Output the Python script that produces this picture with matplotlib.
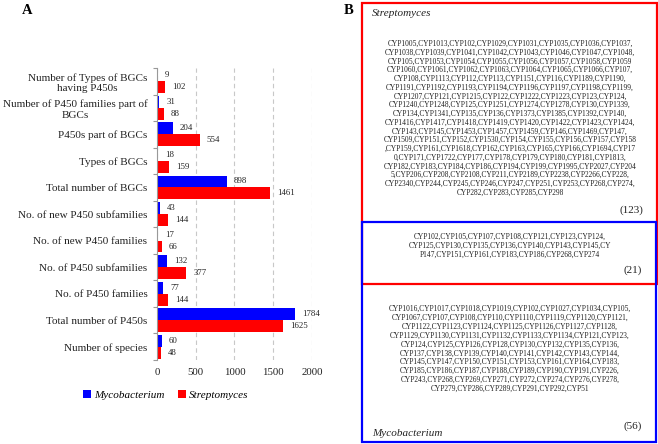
import matplotlib
matplotlib.use('Agg')
import numpy as np
import matplotlib.pyplot as plt
from matplotlib.patches import Rectangle

plt.rcParams['font.family'] = ['Liberation Serif', 'DejaVu Serif']

# panel A data (bottom to top)
categories = ['Number of species', 'Total number of P450s', 'No. of P450 families',
              'No. of P450 subfamilies', 'No. of new P450 families',
              'No. of new P450 subfamilies', 'Total number of BGCs', 'Types of BGCs',
              'P450s part of BGCs', 'Number of P450 families part of\nBGCs',
              'Number of Types of BGCs\nhaving P450s']
myco = [60, 1784, 77, 132, 17, 43, 898, 18, 204, 31, 9]
strep = [48, 1625, 144, 377, 66, 144, 1461, 159, 554, 88, 102]
xticks = [0, 500, 1000, 1500, 2000]

# panel B data (line breaks as in the figure)
strep_only = [
    'CYP1005,CYP1013,CYP102,CYP1029,CYP1031,CYP1035,CYP1036,CYP1037,',
    'CYP1038,CYP1039,CYP1041,CYP1042,CYP1043,CYP1046,CYP1047,CYP1048,',
    'CYP105,CYP1053,CYP1054,CYP1055,CYP1056,CYP1057,CYP1058,CYP1059',
    'CYP1060,CYP1061,CYP1062,CYP1063,CYP1064,CYP1065,CYP1066,CYP107,',
    'CYP108,CYP1113,CYP112,CYP113,CYP1151,CYP116,CYP1189,CYP1190,',
    'CYP1191,CYP1192,CYP1193,CYP1194,CYP1196,CYP1197,CYP1198,CYP1199,',
    'CYP1207,CYP121,CYP1215,CYP122,CYP1222,CYP1223,CYP123,CYP124,',
    'CYP1240,CYP1248,CYP125,CYP1251,CYP1274,CYP1278,CYP130,CYP1339,',
    'CYP134,CYP1341,CYP135,CYP136,CYP1373,CYP1385,CYP1392,CYP140,',
    'CYP1416,CYP1417,CYP1418,CYP1419,CYP1420,CYP1422,CYP1423,CYP1424,',
    'CYP143,CYP145,CYP1453,CYP1457,CYP1459,CYP146,CYP1469,CYP147,',
    'CYP1509,CYP151,CYP152,CYP1530,CYP154,CYP155,CYP156,CYP157,CYP158',
    ',CYP159,CYP161,CYP1618,CYP162,CYP163,CYP165,CYP166,CYP1694,CYP17',
    '0,CYP171,CYP1722,CYP177,CYP178,CYP179,CYP180,CYP181,CYP1813,',
    'CYP182,CYP183,CYP184,CYP186,CYP194,CYP199,CYP1995,CYP2027,CYP204',
    '5,CYP206,CYP208,CYP2108,CYP211,CYP2189,CYP2238,CYP2266,CYP228,',
    'CYP2340,CYP244,CYP245,CYP246,CYP247,CYP251,CYP253,CYP268,CYP274,',
    'CYP282,CYP283,CYP285,CYP298',
]
shared = [
    'CYP102,CYP105,CYP107,CYP108,CYP121,CYP123,CYP124,',
    'CYP125,CYP130,CYP135,CYP136,CYP140,CYP143,CYP145,CY',
    'P147,CYP151,CYP161,CYP183,CYP186,CYP268,CYP274',
]
myco_only = [
    'CYP1016,CYP1017,CYP1018,CYP1019,CYP102,CYP1027,CYP1034,CYP105,',
    'CYP1067,CYP107,CYP108,CYP110,CYP1110,CYP1119,CYP1120,CYP1121,',
    'CYP1122,CYP1123,CYP1124,CYP1125,CYP1126,CYP1127,CYP1128,',
    'CYP1129,CYP1130,CYP1131,CYP1132,CYP1133,CYP1134,CYP121,CYP123,',
    'CYP124,CYP125,CYP126,CYP128,CYP130,CYP132,CYP135,CYP136,',
    'CYP137,CYP138,CYP139,CYP140,CYP141,CYP142,CYP143,CYP144,',
    'CYP145,CYP147,CYP150,CYP151,CYP153,CYP161,CYP164,CYP183,',
    'CYP185,CYP186,CYP187,CYP188,CYP189,CYP190,CYP191,CYP226,',
    'CYP243,CYP268,CYP269,CYP271,CYP272,CYP274,CYP276,CYP278,',
    'CYP279,CYP286,CYP289,CYP291,CYP292,CYP51',
]
counts = {'strep': '(123)', 'shared': '(21)', 'myco': '(56)'}

BLUE = '#0000ff'
RED = '#ff0000'
W, H = 658, 444

fig = plt.figure(figsize=(W / 100, H / 100), dpi=100)

# overlay in pixel coords for panel B and labels
ov = fig.add_axes([0, 0, 1, 1])
ov.set_xlim(0, W)
ov.set_ylim(H, 0)
ov.axis('off')

# ---- panel A ----
ax = fig.add_axes([157 / W, 1 - 360 / H, 155 / W, 292 / H])
y = np.arange(len(categories))
h = 0.45
ax.barh(y + h / 2, myco, height=h, color=BLUE, label='Mycobacterium')
ax.barh(y - h / 2, strep, height=h, color=RED, label='Streptomyces')
for yi, v in zip(y, myco):
    ax.annotate(str(v), (v, yi + h / 2), xytext=(5, 0), textcoords='offset points',
                va='center', ha='left', fontsize=6.3, color='#222222')
for yi, v in zip(y, strep):
    ax.annotate(str(v), (v, yi - h / 2), xytext=(5, 0), textcoords='offset points',
                va='center', ha='left', fontsize=6.3, color='#222222')

ax.set_xlim(0, 2000)
ax.set_ylim(-0.5, len(categories) - 0.5)
ax.set_xticks(xticks)
ax.set_xticklabels([str(t) for t in xticks], fontsize=7.8, color='#222222')
ax.tick_params(axis='x', length=0, pad=6)
ax.set_yticks(y)
ax.set_yticklabels(categories, fontsize=8, color='#222222', multialignment='center')
ax.set_yticks(np.arange(-0.5, len(categories)), minor=True)
ax.tick_params(axis='y', which='major', length=0, pad=7)
ax.tick_params(axis='y', which='minor', length=3, color='#999999', width=0.8)
for s in ['top', 'right', 'bottom']:
    ax.spines[s].set_visible(False)
ax.spines['left'].set_color('#999999')
ax.spines['left'].set_linewidth(0.8)
ax.xaxis.grid(True, linestyle=(0, (4, 3)), color='#c8c8c8', linewidth=0.8)
ax.set_axisbelow(True)

fig.legend(loc='center', bbox_to_anchor=(166 / W, 1 - 395 / H), ncol=2, frameon=False,
           prop={'style': 'italic', 'size': 8}, handlelength=0.7, handleheight=0.7,
           handletextpad=0.3, columnspacing=1.2)

ov.text(27, 11, 'A', fontsize=10.5, fontweight='bold', ha='center', va='center')
ov.text(349, 11, 'B', fontsize=10.5, fontweight='bold', ha='center', va='center')

# ---- panel B ----
ov.add_patch(Rectangle((362, 3), 295, 281, fill=False, edgecolor=RED, linewidth=1.6))
ov.add_patch(Rectangle((362, 222), 294, 220, fill=False, edgecolor=BLUE, linewidth=1.6))

cx = 510
dy = 8.75
tcol = '#222222'
for i, line in enumerate(strep_only):
    ov.text(cx, 44 + i * dy, line, fontsize=5.45, ha='center', va='center', color=tcol)
for i, line in enumerate(shared):
    ov.text(cx, 237 + i * dy, line, fontsize=5.45, ha='center', va='center', color=tcol)
for i, line in enumerate(myco_only):
    ov.text(cx, 309 + i * 8.87, line, fontsize=5.45, ha='center', va='center', color=tcol)

ov.text(372, 13, 'Streptomyces', fontsize=8, style='italic', ha='left', va='center', color=tcol)
ov.text(372, 433, 'Mycobacterium', fontsize=8, style='italic', ha='left', va='center', color=tcol)
ov.text(631, 210, counts['strep'], fontsize=8, ha='center', va='center', color=tcol)
ov.text(633, 270, counts['shared'], fontsize=8, ha='center', va='center', color=tcol)
ov.text(633, 426, counts['myco'], fontsize=8, ha='center', va='center', color=tcol)

fig.savefig('out.png', dpi=100)
